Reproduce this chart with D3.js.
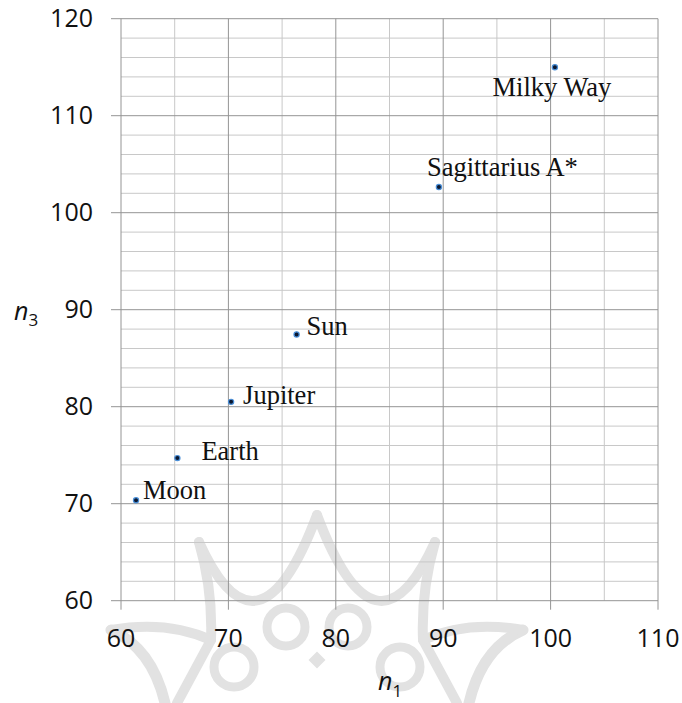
<!DOCTYPE html>
<html><head><meta charset="utf-8">
<script src="https://cdn.jsdelivr.net/npm/d3@7"></script>
<style>body{margin:0;background:#fff}svg{display:block}</style>
</head><body>
<script>
// ---- data ----
const names = ["Moon","Earth","Jupiter","Sun","Sagittarius A*","Milky Way"];
const n1 = [61.4, 65.25, 70.25, 76.35, 89.6, 100.4];
const n3 = [70.35, 74.7, 80.5, 87.45, 102.65, 115.0];
const xTicks = [60,70,80,90,100,110];
const yTicks = [60,70,80,90,100,110,120];
// label placement offsets (px) relative to point
const labelDx = [7, 24, 12, 10, -12, -3];
const labelDy = [-1, 2, 2, 1, -11, 29];
const labelAnchor = ["start","start","start","start","start","middle"];

const W = 682, H = 703;
const svg = d3.select("body").append("svg").attr("width", W).attr("height", H);
const x = d3.scaleLinear().domain([60,110]).range([121,658]);
const y = d3.scaleLinear().domain([60,120]).range([600.7,18.7]);

// ---- faint watermark ornament (decoration) ----
const wm = svg.append("g").attr("fill","none").attr("stroke","#e2e2e2").attr("stroke-linecap","round");
const cx = 317;
[1,-1].forEach(s => {
  const X = v => cx + s*v;
  wm.append("path").attr("stroke-width",10)
    .attr("d",`M${X(0)},515 Q${X(59)},672 ${X(118)},542`);
  wm.append("path").attr("stroke-width",10)
    .attr("d",`M${X(118)},542 Q${X(104)},590 ${X(106)},640 L${X(140)},703`);
  wm.append("path").attr("stroke-width",11)
    .attr("d",`M${X(206)},630 Q${X(165)},648 ${X(152)},703`);
  wm.append("path").attr("stroke-width",10)
    .attr("d",`M${X(106)},640 Q${X(150)},620 ${X(206)},630`);
  wm.append("circle").attr("cx",X(31)).attr("cy",627).attr("r",19).attr("stroke-width",9);
  wm.append("circle").attr("cx",X(83)).attr("cy",667).attr("r",20).attr("stroke-width",9);
});
wm.append("rect").attr("x",cx-6).attr("y",654).attr("width",12).attr("height",12)
  .attr("fill","#e2e2e2").attr("stroke","none").attr("transform",`rotate(45,${cx},660)`);

// ---- grid ----
const g = svg.append("g");
const minorY = d3.range(62,120,2).filter(v => v%10 !== 0);
g.selectAll(".hy").data(minorY).join("line")
  .attr("x1",x(60)).attr("x2",x(110)).attr("y1",d=>y(d)).attr("y2",d=>y(d))
  .attr("stroke","#c8c8c8").attr("stroke-width",1);
const minorX = [65,75,85,95,105];
g.selectAll(".vx").data(minorX).join("line")
  .attr("y1",y(60)).attr("y2",y(120)).attr("x1",d=>x(d)).attr("x2",d=>x(d))
  .attr("stroke","#c8c8c8").attr("stroke-width",1);
// major grid + ticks
g.selectAll(".my").data(yTicks).join("line")
  .attr("x1",x(60)-10).attr("x2",x(110)).attr("y1",d=>y(d)).attr("y2",d=>y(d))
  .attr("stroke","#949494").attr("stroke-width",1);
g.selectAll(".mx").data(xTicks).join("line")
  .attr("y1",y(120)).attr("y2",y(60)+9).attr("x1",d=>x(d)).attr("x2",d=>x(d))
  .attr("stroke","#949494").attr("stroke-width",1);

// ---- tick labels ----
const tf = "'Open Sans', 'Liberation Sans', sans-serif";
svg.selectAll(".yl").data(yTicks).join("text")
  .attr("x",93).attr("y",d=>y(d)+8.7).attr("text-anchor","end")
  .attr("font-family",tf).attr("font-size",25).attr("fill","#111").text(d=>d);
svg.selectAll(".xl").data(xTicks).join("text")
  .attr("x",d=>x(d)).attr("y",646.5).attr("text-anchor","middle")
  .attr("font-family",tf).attr("font-size",25).attr("fill","#111").text(d=>d);

// ---- axis titles ----
const t3 = svg.append("text").attr("x",14).attr("y",319.5)
  .attr("font-family",tf).attr("font-size",25).attr("fill","#111");
t3.append("tspan").attr("font-style","italic").text("n");
t3.append("tspan").attr("font-size",17).attr("dy",6.5).text("3");
const t1 = svg.append("text").attr("x",378).attr("y",690)
  .attr("font-family",tf).attr("font-size",25).attr("fill","#111");
t1.append("tspan").attr("font-style","italic").text("n");
t1.append("tspan").attr("font-size",17).attr("dy",7).text("1");

// ---- points ----
const pts = names.map((nm,i)=>({nm, a:n1[i], b:n3[i], dx:labelDx[i], dy:labelDy[i], an:labelAnchor[i]}));
svg.selectAll(".pt").data(pts).join("circle")
  .attr("cx",d=>x(d.a)).attr("cy",d=>y(d.b)).attr("r",2.6)
  .attr("fill","#0b1830").attr("stroke","#4a8fd8").attr("stroke-width",1.2);
svg.selectAll(".lb").data(pts).join("text")
  .attr("x",d=>x(d.a)+d.dx).attr("y",d=>y(d.b)+d.dy).attr("text-anchor",d=>d.an)
  .attr("font-family","'Liberation Serif','Times New Roman',serif").attr("font-size",26.5)
  .attr("fill","#111").text(d=>d.nm);
</script>
</body></html>
